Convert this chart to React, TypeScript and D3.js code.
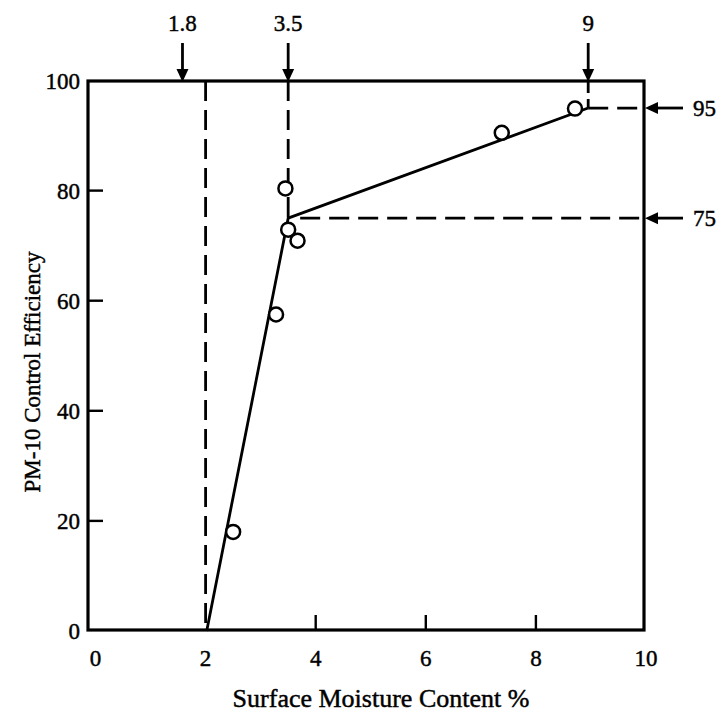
import React from "react";
import * as d3 from "d3";

// ---- data ----
const observations: [number, number][] = [
  [2.5, 18.0],
  [3.28, 57.5],
  [3.45, 80.4],
  [3.5, 72.9],
  [3.67, 70.9],
  [7.38, 90.5],
  [8.71, 94.9],
];
const fitLine: [number, number][] = [
  [2.02, 0],
  [3.5, 75],
  [8.95, 95],
];
const xTicks = [0, 2, 4, 6, 8, 10];
const yTicks = [0, 20, 40, 60, 80, 100];
const topMarkers = [
  { value: 1.58, label: "1.8" },
  { value: 3.5, label: "3.5" },
  { value: 8.95, label: "9" },
];
const rightMarkers = [
  { value: 95, label: "95" },
  { value: 75, label: "75" },
];
const thresholdX = 2; // vertical dashed line
const xTitle = "Surface Moisture Content %";
const yTitle = "PM-10 Control Efficiency";

const W = 727;
const H = 713;
const FRAME = { left: 88, right: 644, top: 81, bottom: 630 };
const FONT = "'Liberation Serif', 'Times New Roman', serif";

export default function App() {
  const x = d3.scaleLinear().domain([0, 10]).range([95.5, 646]);
  const y = d3.scaleLinear().domain([0, 100]).range([631, 80.5]);
  const line = d3
    .line<[number, number]>()
    .x((d) => x(d[0]))
    .y((d) => y(d[1]));

  const dash = "20 9";
  const bp = fitLine[1];
  const end = fitLine[2];
  const textStroke = { stroke: "#000", strokeWidth: 0.45 };

  return (
    <svg
      width={W}
      height={H}
      style={{ position: "absolute", left: 0, top: 0, background: "#fff" }}
      fontFamily={FONT}
    >
      <rect x={0} y={0} width={W} height={H} fill="#fff" />
      {/* dashed reference lines */}
      <line
        x1={x(thresholdX)}
        x2={x(thresholdX)}
        y1={FRAME.top}
        y2={FRAME.bottom}
        stroke="#000"
        strokeWidth={2.8}
        strokeDasharray={dash}
      />
      <line
        x1={x(bp[0])}
        x2={x(bp[0])}
        y1={FRAME.top}
        y2={y(bp[1])}
        stroke="#000"
        strokeWidth={2.8}
        strokeDasharray={dash}
      />
      <line
        x1={x(bp[0]) + 12}
        x2={FRAME.right}
        y1={y(bp[1])}
        y2={y(bp[1])}
        stroke="#000"
        strokeWidth={2.8}
        strokeDasharray={dash}
      />
      <line
        x1={x(end[0])}
        x2={x(end[0])}
        y1={FRAME.top}
        y2={y(end[1])}
        stroke="#000"
        strokeWidth={2.8}
        strokeDasharray="12 6"
      />
      <line
        x1={x(end[0])}
        x2={FRAME.right}
        y1={y(end[1])}
        y2={y(end[1])}
        stroke="#000"
        strokeWidth={2.8}
        strokeDasharray={dash}
      />

      {/* fitted line */}
      <path d={line(fitLine) || ""} fill="none" stroke="#000" strokeWidth={2.8} />

      {/* frame */}
      <rect
        x={FRAME.left}
        y={FRAME.top}
        width={FRAME.right - FRAME.left}
        height={FRAME.bottom - FRAME.top}
        fill="none"
        stroke="#000"
        strokeWidth={3.2}
      />

      {/* ticks */}
      {yTicks
        .filter((t) => t > 0 && t < 100)
        .map((t) => (
          <line
            key={"yt" + t}
            x1={FRAME.left}
            x2={FRAME.left + 15}
            y1={y(t)}
            y2={y(t)}
            stroke="#000"
            strokeWidth={2.4}
          />
        ))}
      {xTicks
        .filter((t) => t > 2 && t < 10)
        .map((t) => (
          <line
            key={"xt" + t}
            x1={x(t)}
            x2={x(t)}
            y1={FRAME.bottom}
            y2={FRAME.bottom - 15}
            stroke="#000"
            strokeWidth={2.4}
          />
        ))}

      {/* tick labels */}
      {yTicks.map((t) => (
        <text
          key={"yl" + t}
          x={80}
          y={y(t) + 8}
          textAnchor="end"
          fontSize={23}
          {...textStroke}
        >
          {t}
        </text>
      ))}
      {xTicks.map((t) => (
        <text
          key={"xl" + t}
          x={x(t)}
          y={666}
          textAnchor="middle"
          fontSize={23}
          {...textStroke}
        >
          {t}
        </text>
      ))}

      {/* observations */}
      {observations.map((d, i) => (
        <circle
          key={"p" + i}
          cx={x(d[0])}
          cy={y(d[1])}
          r={7}
          fill="#fff"
          stroke="#000"
          strokeWidth={2.5}
        />
      ))}

      {/* top arrows */}
      {topMarkers.map((m) => {
        const cx = x(m.value);
        return (
          <g key={"tm" + m.label}>
            <line x1={cx} x2={cx} y1={43} y2={72} stroke="#000" strokeWidth={2.8} />
            <polygon
              points={`${cx - 6},${69} ${cx + 6},${69} ${cx},${82}`}
              fill="#000"
            />
            <text x={cx} y={31} textAnchor="middle" fontSize={23} {...textStroke}>
              {m.label}
            </text>
          </g>
        );
      })}

      {/* right arrows */}
      {rightMarkers.map((m) => {
        const cy = y(m.value);
        return (
          <g key={"rm" + m.label}>
            <line x1={683} x2={655} y1={cy} y2={cy} stroke="#000" strokeWidth={2.8} />
            <polygon
              points={`${658},${cy - 6} ${658},${cy + 6} ${645},${cy}`}
              fill="#000"
            />
            <text x={693} y={cy + 8} textAnchor="start" fontSize={23} {...textStroke}>
              {m.label}
            </text>
          </g>
        );
      })}

      {/* axis titles */}
      <text x={381} y={707} textAnchor="middle" fontSize={26} {...textStroke}>
        {xTitle}
      </text>
      <text
        transform={`translate(40, 372) rotate(-90)`}
        textAnchor="middle"
        fontSize={23}
        {...textStroke}
      >
        {yTitle}
      </text>
    </svg>
  );
}
